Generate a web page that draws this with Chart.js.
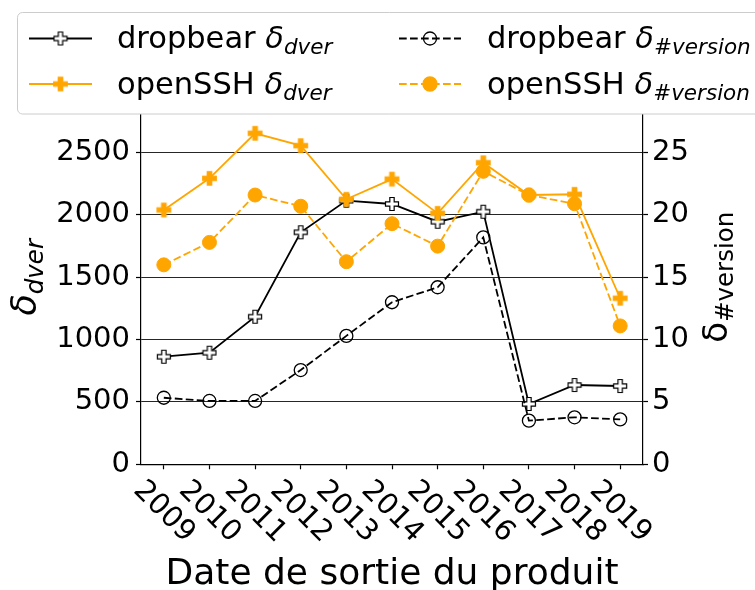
<!DOCTYPE html>
<html>
<head>
<meta charset="utf-8">
<script src="https://cdn.jsdelivr.net/npm/chart.js@4.4.1/dist/chart.umd.min.js"></script>
<style>
  html, body { margin: 0; padding: 0; background: #fff; }
  #grafico { display: block; }
</style>
</head>
<body>
<canvas id="grafico" width="755" height="590"></canvas>
<script>
const ANNEES = ['2009', '2010', '2011', '2012', '2013', '2014', '2015', '2016', '2017', '2018', '2019'];
const DROPBEAR_DVER = [863, 895, 1184, 1861, 2115, 2088, 1946, 2026, 484, 636, 628];
const OPENSSH_DVER = [2040, 2294, 2655, 2556, 2126, 2288, 2013, 2419, 2160, 2166, 1332];
const DROPBEAR_VERSION = [5.34, 5.08, 5.08, 7.56, 10.3, 13.0, 14.2, 18.2, 3.5, 3.77, 3.6];
const OPENSSH_VERSION = [16.0, 17.8, 21.6, 20.7, 16.25, 19.3, 17.5, 23.5, 21.6, 20.9, 11.1];
const TICKS_DVER = [0, 500, 1000, 1500, 2000, 2500];
const TICKS_VERSION = [0, 5, 10, 15, 20, 25];

const ORANGE = '#ffa500';
const FAMILLE = '"DejaVu Sans", sans-serif';
const TIRETS = [7.7, 3.3];

const crearCruz = (taille, fond, bord) => {
  const c = document.createElement('canvas');
  const s = Math.ceil(taille + 3);
  c.width = s;
  c.height = s;
  const ctx = c.getContext('2d');
  const u = taille / 6;
  const m = s / 2;
  const pts = [[-1, -3], [1, -3], [1, -1], [3, -1], [3, 1], [1, 1], [1, 3], [-1, 3], [-1, 1], [-3, 1], [-3, -1], [-1, -1]];
  ctx.beginPath();
  pts.forEach(([px, py], i) => {
    if (i) ctx.lineTo(m + px * u, m + py * u);
    else ctx.moveTo(m + px * u, m + py * u);
  });
  ctx.closePath();
  ctx.fillStyle = fond;
  ctx.fill();
  ctx.lineWidth = 1.2;
  ctx.strokeStyle = bord;
  ctx.stroke();
  return c;
};

const cruzBlanca = crearCruz(13, '#fff', '#000');
const cruzNaranja = crearCruz(13.5, ORANGE, ORANGE);

const largo = (ctx, partes) =>
  partes.reduce((s, p) => {
    ctx.font = p.font;
    return s + ctx.measureText(p.t).width;
  }, 0);

const escribir = (ctx, x, y, partes) => {
  let cx = x;
  partes.forEach(p => {
    ctx.font = p.font;
    ctx.fillText(p.t, cx, y + (p.dy || 0));
    cx += ctx.measureText(p.t).width;
  });
};

const texteLegende = (nom, indice) => [
  { t: nom + ' ', font: '30.5px ' + FAMILLE },
  { t: 'δ', font: 'italic 30.5px ' + FAMILLE },
  { t: indice, font: 'italic 21.5px ' + FAMILLE, dy: 6 },
];

// legend, axis titles and rotated year labels
const decor = {
  id: 'decor',
  afterDraw(chart) {
    const ctx = chart.ctx;
    const area = chart.chartArea;
    const sx = chart.scales.x;
    ctx.save();
    ctx.fillStyle = '#000';

    ctx.font = '29px ' + FAMILLE;
    ctx.textAlign = 'center';
    ctx.textBaseline = 'middle';
    ANNEES.forEach((a, i) => {
      ctx.save();
      ctx.translate(sx.getPixelForTick(i), 512);
      ctx.rotate(Math.PI / 4);
      ctx.fillText(a, 0, 0);
      ctx.restore();
    });

    ctx.textBaseline = 'alphabetic';
    ctx.font = '36px ' + FAMILLE;
    ctx.fillText('Date de sortie du produit', (area.left + area.right) / 2, 584);

    ctx.textAlign = 'left';
    const milieu = (area.top + area.bottom) / 2;
    const titreG = [
      { t: 'δ', font: 'italic 35px ' + FAMILLE },
      { t: 'dver', font: 'italic 24.5px ' + FAMILLE, dy: 7 },
    ];
    ctx.save();
    ctx.translate(36, milieu);
    ctx.rotate(-Math.PI / 2);
    escribir(ctx, -largo(ctx, titreG) / 2, 0, titreG);
    ctx.restore();

    const titreD = [
      { t: 'δ', font: '34px ' + FAMILLE },
      { t: '#version', font: '24.5px ' + FAMILLE, dy: 6 },
    ];
    ctx.save();
    ctx.translate(727, milieu);
    ctx.rotate(-Math.PI / 2);
    escribir(ctx, -largo(ctx, titreD) / 2, 0, titreD);
    ctx.restore();

    // legend box
    ctx.beginPath();
    ctx.roundRect(17.5, 12.5, 770, 101.5, 5);
    ctx.fillStyle = '#fff';
    ctx.fill();
    ctx.lineWidth = 1;
    ctx.strokeStyle = '#cccccc';
    ctx.stroke();

    const entrees = [
      { x0: 29, x1: 92, tx: 117, y: 38.5, couleur: '#000', dash: [], marque: cruzBlanca, texte: texteLegende('dropbear', 'dver') },
      { x0: 29, x1: 92, tx: 117, y: 84, couleur: ORANGE, dash: [], marque: cruzNaranja, texte: texteLegende('openSSH', 'dver') },
      { x0: 399, x1: 461, tx: 487, y: 38.5, couleur: '#000', dash: TIRETS, rond: false, texte: texteLegende('dropbear', '#version') },
      { x0: 399, x1: 461, tx: 487, y: 84, couleur: ORANGE, dash: TIRETS, rond: true, texte: texteLegende('openSSH', '#version') },
    ];
    entrees.forEach(e => {
      ctx.save();
      ctx.strokeStyle = e.couleur;
      ctx.lineWidth = 1.8;
      ctx.setLineDash(e.dash);
      ctx.beginPath();
      ctx.moveTo(e.x0, e.y);
      ctx.lineTo(e.x1, e.y);
      ctx.stroke();
      ctx.setLineDash([]);
      const cx = (e.x0 + e.x1) / 2;
      if (e.marque) {
        ctx.drawImage(e.marque, cx - e.marque.width / 2, e.y - e.marque.height / 2);
      } else {
        ctx.beginPath();
        ctx.arc(cx, e.y, e.rond ? 7 : 6.5, 0, Math.PI * 2);
        if (e.rond) {
          ctx.fillStyle = ORANGE;
          ctx.fill();
        }
        ctx.lineWidth = 1.3;
        ctx.stroke();
      }
      ctx.restore();
      ctx.fillStyle = '#000';
      escribir(ctx, e.tx, e.y + 9.5, e.texte);
    });
    ctx.restore();
  },
};

const serie = (data, axe, couleur, extra) =>
  Object.assign(
    {
      data: data,
      yAxisID: axe,
      borderColor: couleur,
      backgroundColor: couleur,
      borderWidth: 1.8,
      tension: 0,
      fill: false,
      pointRadius: 7,
      pointHoverRadius: 7,
    },
    extra
  );

new Chart(document.getElementById('grafico'), {
  type: 'line',
  data: {
    labels: ANNEES,
    datasets: [
      serie(OPENSSH_VERSION, 'yV', ORANGE, {
        label: 'openSSH δ#version',
        borderDash: TIRETS,
        pointStyle: 'circle',
        pointBackgroundColor: ORANGE,
        pointBorderColor: ORANGE,
        pointBorderWidth: 1,
      }),
      serie(DROPBEAR_VERSION, 'yV', '#000', {
        label: 'dropbear δ#version',
        borderDash: TIRETS,
        pointStyle: 'circle',
        pointRadius: 6.5,
        pointBackgroundColor: 'rgba(0,0,0,0)',
        pointBorderColor: '#000',
        pointBorderWidth: 1.3,
      }),
      serie(OPENSSH_DVER, 'yD', ORANGE, {
        label: 'openSSH δdver',
        pointStyle: cruzNaranja,
      }),
      serie(DROPBEAR_DVER, 'yD', '#000', {
        label: 'dropbear δdver',
        pointStyle: cruzBlanca,
      }),
    ],
  },
  options: {
    responsive: false,
    animation: false,
    devicePixelRatio: 1,
    layout: { padding: { top: 90.3, left: 0, right: 0, bottom: 0 } },
    plugins: { legend: { display: false }, tooltip: { enabled: false } },
    events: [],
    scales: {
      x: {
        type: 'category',
        offset: true,
        ticks: { display: false },
        grid: { drawOnChartArea: false, drawTicks: true, tickLength: 5, tickColor: '#000', tickWidth: 1.2 },
        border: { display: true, color: '#000', width: 1.2 },
        afterFit: s => { s.height = 125.7; },
      },
      yD: {
        position: 'left',
        min: 0,
        max: 3000,
        afterBuildTicks: s => { s.ticks = TICKS_DVER.map(v => ({ value: v })); },
        ticks: { color: '#000', font: { family: FAMILLE, size: 29 }, padding: 6, callback: v => String(v) },
        grid: { color: 'rgba(0,0,0,0.85)', lineWidth: 1, tickLength: 5, tickColor: '#000', tickWidth: 1.2 },
        border: { display: true, color: '#000', width: 1.2 },
        afterFit: s => { s.width = 141; },
      },
      yV: {
        position: 'right',
        min: 0,
        max: 30,
        afterBuildTicks: s => { s.ticks = TICKS_VERSION.map(v => ({ value: v })); },
        ticks: { color: '#000', font: { family: FAMILLE, size: 29 }, padding: 4, callback: v => String(v) },
        grid: { drawOnChartArea: false, tickLength: 5, tickColor: '#000', tickWidth: 1.2 },
        border: { display: true, color: '#000', width: 1.2 },
        afterFit: s => { s.width = 112; },
      },
    },
  },
  plugins: [decor],
});
</script>
</body>
</html>
